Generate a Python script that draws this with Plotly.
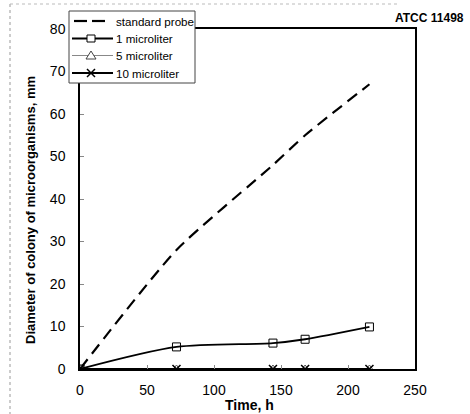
import plotly.graph_objects as go

time_h = [0, 72, 144, 168, 216]
standard_probe = [0, 28, 48, 55, 67]
one_microliter = [0, 5.2, 6.1, 7.0, 9.9]
five_microliter = [0, 0, 0, 0, 0]
ten_microliter = [0, 0, 0, 0, 0]

series_names = ["standard probe", "1 microliter", "5 microliter", "10 microliter"]
x_ticks = [0, 50, 100, 150, 200, 250]
y_ticks = [0, 10, 20, 30, 40, 50, 60, 70, 80]

FONT = "Arial, Liberation Sans, sans-serif"

# plot-area geometry in pixels (for legend placement in paper coords)
W, H = 470, 414
ML, MR, MT, MB = 80, 55, 29, 45
PW, PH = W - ML - MR, H - MT - MB


def px(x):
    return (x - ML) / PW


def py(y):
    return (H - MB - y) / PH


fig = go.Figure()
fig.add_trace(go.Scatter(
    x=time_h, y=standard_probe, name=series_names[0], mode="lines",
    line=dict(color="black", width=2.2, dash="12px,7px", shape="spline", smoothing=0.6),
))
fig.add_trace(go.Scatter(
    x=time_h, y=one_microliter, name=series_names[1], mode="lines+markers",
    line=dict(color="black", width=1.8, shape="spline", smoothing=0.8),
    marker=dict(symbol="square-open", size=8, color="black", line=dict(width=1)),
))
fig.add_trace(go.Scatter(
    x=time_h, y=five_microliter, name=series_names[2], mode="lines+markers",
    line=dict(color="#777777", width=1.2),
    marker=dict(symbol="triangle-up-open", size=8, color="#555555", line=dict(width=1)),
))
fig.add_trace(go.Scatter(
    x=time_h, y=ten_microliter, name=series_names[3], mode="lines+markers",
    line=dict(color="black", width=2),
    marker=dict(symbol="x-thin-open", size=8, color="black", line=dict(width=1.5, color="black")),
))

axis_font = dict(family=FONT, size=14, color="black")
fig.update_xaxes(
    range=[0, 250], tickvals=x_ticks, ticks="inside", ticklen=4, tickcolor="#888888",
    showline=True, linecolor="black", linewidth=1.5, mirror=True, showgrid=False, zeroline=False,
    tickfont=axis_font, ticklabelstandoff=7,
)
fig.update_yaxes(
    range=[0, 80], tickvals=y_ticks, ticks="inside", ticklen=4, tickcolor="#888888",
    showline=True, linecolor="black", linewidth=1.5, mirror=True, showgrid=False, zeroline=False,
    tickfont=axis_font, ticklabelstandoff=10,
)

# ---- custom compact legend ----
shapes = [
    dict(type="line", xref="paper", yref="paper", x0=px(10), x1=px(10), y0=py(4), y1=py(414),
         line=dict(color="#999999", width=1, dash="dot")),
    dict(type="line", xref="paper", yref="paper", x0=px(10), x1=px(400), y0=py(4), y1=py(4),
         line=dict(color="#bbbbbb", width=1, dash="dot")),
    dict(type="rect", xref="paper", yref="paper", x0=px(69), x1=px(195), y0=py(11), y1=py(83),
         fillcolor="white", line=dict(color="#444444", width=1), layer="above"),
]
annotations = []
entry_y = [21, 38.5, 55.5, 73]
# dashed sample
shapes += [
    dict(type="line", xref="paper", yref="paper", x0=px(74), x1=px(87), y0=py(entry_y[0]), y1=py(entry_y[0]),
         line=dict(color="black", width=2.2), layer="above"),
    dict(type="line", xref="paper", yref="paper", x0=px(92), x1=px(105), y0=py(entry_y[0]), y1=py(entry_y[0]),
         line=dict(color="black", width=2.2), layer="above"),
]
# solid samples
sample_styles = [("black", 1.8), ("#888888", 1.0), ("black", 2.0)]
for (col, wd), ey in zip(sample_styles, entry_y[1:]):
    shapes.append(dict(type="line", xref="paper", yref="paper", x0=px(72), x1=px(113), y0=py(ey), y1=py(ey),
                       line=dict(color=col, width=wd), layer="above"))
# square marker
cx = 91
ey = entry_y[1]
shapes.append(dict(type="rect", xref="paper", yref="paper", x0=px(cx - 4), x1=px(cx + 4), y0=py(ey + 3.5), y1=py(ey - 3.5),
                   fillcolor="white", line=dict(color="black", width=1), layer="above"))
# triangle marker
ey = entry_y[2]
tri = f"M {px(cx - 5)} {py(ey + 3.5)} L {px(cx + 5)} {py(ey + 3.5)} L {px(cx)} {py(ey - 4.5)} Z"
shapes.append(dict(type="path", xref="paper", yref="paper", path=tri, fillcolor="white",
                   line=dict(color="#444444", width=1), layer="above"))
# x marker
ey = entry_y[3]
xm = (f"M {px(cx - 4)} {py(ey - 4)} L {px(cx + 4)} {py(ey + 4)} "
      f"M {px(cx - 4)} {py(ey + 4)} L {px(cx + 4)} {py(ey - 4)}")
shapes.append(dict(type="path", xref="paper", yref="paper", path=xm,
                   line=dict(color="black", width=1.5), layer="above"))
for name, ey in zip(series_names, entry_y):
    annotations.append(dict(text=name, xref="paper", yref="paper", x=px(113.5), y=py(ey),
                            xanchor="left", yanchor="middle", showarrow=False,
                            font=dict(family=FONT, size=11.6, color="black")))

annotations += [
    dict(text="<b>ATCC 11498</b>", xref="paper", yref="paper", x=px(466), y=py(18),
         xanchor="right", yanchor="middle", showarrow=False,
         font=dict(family=FONT, size=12, color="black")),
    dict(text="<b>Time, h</b>", xref="paper", yref="paper", x=px(249), y=py(405),
         xanchor="center", yanchor="middle", showarrow=False,
         font=dict(family=FONT, size=14, color="black")),
    dict(text="<b>Diameter of colony of microorganisms, mm</b>", xref="paper", yref="paper",
         x=px(30), y=py(210), xanchor="center", yanchor="middle", textangle=-90, showarrow=False,
         font=dict(family=FONT, size=13, color="black")),
]

fig.update_layout(
    width=W, height=H,
    margin=dict(l=ML, r=MR, t=MT, b=MB),
    paper_bgcolor="white", plot_bgcolor="white",
    showlegend=False,
    annotations=annotations,
    shapes=shapes,
)

fig.write_html("out.html")
